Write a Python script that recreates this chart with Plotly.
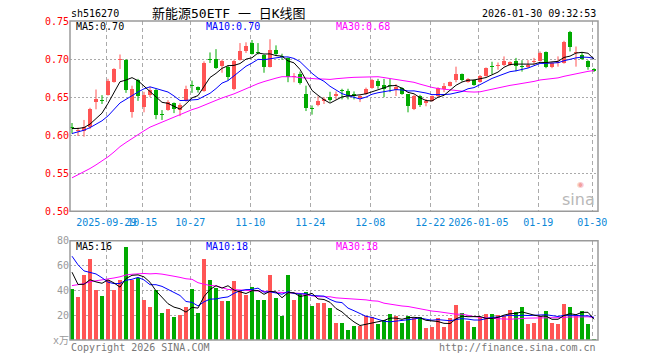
import plotly.graph_objects as go
import pandas as pd

# ---------------- data ----------------
sep = ["2025-09-%02d" % d for d in [19, 22, 23, 24, 25, 26, 29, 30]]
octo = ["2025-10-%02d" % d for d in [9, 10, 13, 14, 15, 16, 17, 20, 21, 22, 23, 24, 27, 28, 29, 30, 31]]
nov = ["2025-11-%02d" % d for d in [3, 4, 5, 6, 7, 10, 11, 12, 13, 14, 17, 18, 19, 20, 21, 24, 25, 26, 27, 28]]
dec = ["2025-12-%02d" % d for d in [1, 2, 3, 4, 5, 8, 9, 10, 11, 12, 15, 16, 17, 18, 19, 22, 23, 24, 25, 26, 29, 30, 31]]
jan = ["2026-01-%02d" % d for d in [5, 6, 7, 8, 9, 12, 13, 14, 15, 16, 19, 20, 21, 22, 23, 26, 27, 28, 29, 30]]
dates = sep + octo + nov + dec + jan

open_ = [0.610, 0.606, 0.606, 0.611, 0.644, 0.646, 0.653, 0.670, 0.699, 0.699,
         0.630, 0.672, 0.637, 0.653, 0.660, 0.627, 0.633, 0.642, 0.633, 0.645,
         0.666, 0.663, 0.658, 0.700, 0.700, 0.6905, 0.690, 0.661, 0.699, 0.711,
         0.721, 0.709, 0.705, 0.690, 0.712, 0.704, 0.701, 0.676, 0.680, 0.6535,
         0.636, 0.639, 0.645, 0.6505, 0.651, 0.6582, 0.658, 0.654, 0.649, 0.654,
         0.662, 0.671, 0.6665, 0.6655, 0.660, 0.662, 0.6535, 0.635, 0.652, 0.642,
         0.645, 0.651, 0.661, 0.665, 0.673, 0.680, 0.670, 0.672, 0.670, 0.678,
         0.6905, 0.6915, 0.692, 0.692, 0.697, 0.6905, 0.689, 0.6965, 0.698, 0.709,
         0.689, 0.695, 0.695, 0.735, 0.7085, 0.7057, 0.697, 0.6874]
high = [0.616, 0.610, 0.620, 0.636, 0.660, 0.6526, 0.674, 0.688, 0.706, 0.700,
        0.665, 0.674, 0.657, 0.6635, 0.661, 0.633, 0.646, 0.643, 0.642, 0.665,
        0.6717, 0.664, 0.697, 0.7087, 0.713, 0.699, 0.692, 0.699, 0.721, 0.722,
        0.725, 0.721, 0.706, 0.726, 0.718, 0.707, 0.702, 0.6815, 0.6835, 0.665,
        0.639, 0.651, 0.650, 0.657, 0.6575, 0.661, 0.661, 0.6575, 0.6525, 0.6625,
        0.674, 0.674, 0.674, 0.674, 0.667, 0.663, 0.654, 0.653, 0.653, 0.6475,
        0.652, 0.663, 0.6685, 0.6705, 0.690, 0.681, 0.675, 0.673, 0.679, 0.689,
        0.6965, 0.6955, 0.7035, 0.697, 0.7015, 0.6985, 0.6985, 0.7015, 0.710, 0.710,
        0.696, 0.7035, 0.724, 0.737, 0.7165, 0.709, 0.6985, 0.688]
low = [0.602, 0.599, 0.598, 0.608, 0.634, 0.641, 0.652, 0.669, 0.687, 0.6556,
       0.623, 0.645, 0.630, 0.650, 0.621, 0.620, 0.632, 0.629, 0.625, 0.644,
       0.6556, 0.656, 0.657, 0.6948, 0.687, 0.682, 0.672, 0.659, 0.698, 0.708,
       0.706, 0.706, 0.682, 0.689, 0.704, 0.699, 0.6696, 0.6695, 0.6665, 0.6317,
       0.627, 0.638, 0.641, 0.644, 0.647, 0.647, 0.647, 0.647, 0.6435, 0.653,
       0.661, 0.661, 0.650, 0.6565, 0.6515, 0.653, 0.630, 0.633, 0.637, 0.638,
       0.644, 0.650, 0.6565, 0.664, 0.6695, 0.6705, 0.669, 0.665, 0.669, 0.677,
       0.680, 0.686, 0.691, 0.691, 0.684, 0.6835, 0.688, 0.693, 0.697, 0.688,
       0.688, 0.690, 0.694, 0.710, 0.690, 0.699, 0.686, 0.683]
close = [0.609, 0.607, 0.611, 0.634, 0.648, 0.645, 0.671, 0.687, 0.700, 0.659,
         0.661, 0.651, 0.653, 0.660, 0.626, 0.626, 0.644, 0.635, 0.640, 0.661,
         0.665, 0.659, 0.695, 0.699, 0.688, 0.698, 0.6765, 0.697, 0.711, 0.717,
         0.707, 0.708, 0.690, 0.712, 0.706, 0.703, 0.677, 0.677, 0.669, 0.636,
         0.635, 0.645, 0.648, 0.6465, 0.654, 0.658, 0.651, 0.651, 0.651, 0.661,
         0.672, 0.665, 0.661, 0.665, 0.6635, 0.6535, 0.638, 0.652, 0.639, 0.645,
         0.651, 0.662, 0.665, 0.670, 0.680, 0.672, 0.674, 0.6665, 0.678, 0.688,
         0.690, 0.692, 0.698, 0.696, 0.691, 0.690, 0.6926, 0.697, 0.708, 0.689,
         0.695, 0.6957, 0.723, 0.7165, 0.709, 0.700, 0.6896, 0.684]
volume = [41.1, 34.7, 52.7, 65.3, 40.3, 35.5, 48.4, 40.3, 48.4, 75.0,
          48.4, 50.3, 32.3, 26.7, 40.3, 21.8, 25.0, 18.6, 20.2, 26.7,
          41.1, 21.8, 65.3, 48.4, 42.0, 31.5, 31.5, 47.6, 40.3, 36.3,
          42.8, 32.3, 32.3, 52.4, 33.9, 19.4, 52.4, 32.3, 37.1, 38.7,
          27.5, 29.9, 29.9, 25.8, 13.8, 13.8, 8.1, 11.3, 11.3, 19.4,
          18.6, 13.0, 16.2, 21.0, 19.4, 13.8, 19.4, 17.8, 18.6, 9.7,
          10.5, 17.8, 10.5, 17.8, 28.3, 21.8, 15.4, 10.5, 18.6, 21.0,
          21.0, 20.2, 19.4, 24.2, 22.6, 26.7, 13.0, 13.8, 19.4, 23.4,
          13.8, 13.0, 29.1, 26.7, 19.4, 23.4, 13.0, 1.0]

# sessions before the visible window (estimated from the moving averages at the left edge)
lead_close = [0.490, 0.495, 0.500, 0.505, 0.500, 0.500, 0.495, 0.490, 0.495, 0.500,
              0.505, 0.500, 0.515, 0.525, 0.530, 0.535, 0.540, 0.550, 0.560, 0.567,
              0.585, 0.590, 0.600, 0.600, 0.603, 0.607, 0.605, 0.6115, 0.6115]
lead_volume = [20, 22, 18, 20, 19, 18, 16, 20, 30, 32,
               34, 30, 36, 33, 35, 45, 50, 48, 60, 54,
               104, 102, 78, 52, 66, 84, 52, 47, 49]

tick_dates = ["2025-09-29", "2025-10-15", "2025-10-27", "2025-11-10", "2025-11-24",
              "2025-12-08", "2025-12-22", "2026-01-05", "2026-01-19", "2026-01-30"]
tick_labels = ["2025-09-29", "10-15", "10-27", "11-10", "11-24",
               "12-08", "12-22", "2026-01-05", "01-19", "01-30"]

# ---------------- derived ----------------
n = len(dates)
idx = list(range(n))
k = len(lead_close)
cs = pd.Series(lead_close + close)
vs = pd.Series(lead_volume + volume)
ma = {p: cs.rolling(p).mean().iloc[k:].tolist() for p in (5, 10, 30)}
vma = {p: vs.rolling(p).mean().iloc[k:].tolist() for p in (5, 10, 30)}

RED = "#ff5555"
GREEN = "#00aa00"
up = [c >= o for o, c in zip(open_, close)]
colors = [RED if u else GREEN for u in up]

W, H = 660, 360
L, R, T, B = 70, 62, 21, 20
PW, PH = W - L - R, H - T - B


def fx(x):
    return (x - L) / PW


def fy(y):
    return (H - B - y) / PH


fig = go.Figure()

# wicks
for col, flag in ((RED, True), (GREEN, False)):
    xs, ys = [], []
    for i in idx:
        if up[i] == flag:
            xs += [i, i, None]
            ys += [low[i], high[i], None]
    fig.add_trace(go.Scatter(x=xs, y=ys, mode="lines", line=dict(color=col, width=1),
                             hoverinfo="skip", xaxis="x", yaxis="y"))

# bodies
fig.add_trace(go.Bar(
    x=idx,
    y=[max(abs(c - o), 0.0012) for o, c in zip(open_, close)],
    base=[min(o, c) for o, c in zip(open_, close)],
    marker=dict(color=colors, line=dict(width=0)),
    width=0.75, xaxis="x", yaxis="y"))

# price MAs
for p, col in ((30, "#ff00ff"), (10, "#0000ff"), (5, "#000000")):
    fig.add_trace(go.Scatter(x=idx, y=ma[p], mode="lines", line=dict(color=col, width=1),
                             xaxis="x", yaxis="y"))

# volume
fig.add_trace(go.Bar(x=idx, y=volume, marker=dict(color=colors, line=dict(width=0)),
                     width=0.8, xaxis="x2", yaxis="y2"))
for p, col in ((30, "#ff00ff"), (10, "#0000ff"), (5, "#000000")):
    fig.add_trace(go.Scatter(x=idx, y=vma[p], mode="lines", line=dict(color=col, width=1),
                             xaxis="x2", yaxis="y2"))

tickpos = [dates.index(d) - 0.28 for d in tick_dates]
xr = [(L - 72) / 6, (L + PW - 72) / 6]
MONO = "DejaVu Sans Mono"

common_x = dict(range=xr, tickmode="array", tickvals=tickpos, showgrid=True,
                gridcolor="#aaaaaa", gridwidth=1, griddash="4px,3px", zeroline=False,
                showline=False, ticks="", fixedrange=True, tickangle=0, automargin=False)

main_dom = [fy(211.3), 1.0]
vol_dom = [0.0, fy(240.7)]

fig.update_layout(
    width=W, height=H, margin=dict(l=L, r=R, t=T, b=B, autoexpand=False),
    paper_bgcolor="white", plot_bgcolor="white", showlegend=False,
    bargap=0, barmode="overlay",
    xaxis=dict(**common_x, ticktext=tick_labels, anchor="y", ticklabelstandoff=4,
               tickfont=dict(family=MONO, size=10, color="#0a88d8")),
    xaxis2=dict(**common_x, ticktext=[""] * len(tickpos), anchor="y2", showticklabels=False),
    yaxis=dict(domain=main_dom, range=[0.50, 0.75], tickmode="array",
               tickvals=[0.50, 0.55, 0.60, 0.65, 0.70, 0.75],
               ticktext=["0.50", "0.55", "0.60", "0.65", "0.70", "0.75"],
               tickfont=dict(family=MONO, size=10, color="#ff0000"),
               showgrid=True, gridcolor="#aaaaaa", griddash="2px,2px", zeroline=False,
               ticks="", fixedrange=True, automargin=False),
    yaxis2=dict(domain=vol_dom, range=[0, 80], tickmode="array",
                tickvals=[0, 20, 40, 60, 80], ticktext=["x万", "20", "40", "60", "80"],
                tickfont=dict(family=MONO + ", Noto Sans CJK SC", size=10, color="#999999"),
                showgrid=True, gridcolor="#aaaaaa", griddash="2px,2px", zeroline=False,
                ticks="", fixedrange=True, automargin=False),
)

# panel borders
for ya in ("y", "y2"):
    xa = "x" if ya == "y" else "x2"
    fig.add_shape(type="rect", xref=xa + " domain", yref=ya + " domain", x0=0, x1=1, y0=0, y1=1,
                  line=dict(color="#9a9a9a", width=1.5), layer="above")


def txt(s, x, y, color="#000000", size=10, anchor="left", family=MONO, **kw):
    fig.add_annotation(text=s, x=fx(x), y=fy(y), xref="paper", yref="paper",
                       xanchor=anchor, yanchor="middle", showarrow=False,
                       font=dict(family=family, size=size, color=color), **kw)


txt("sh516270", 69, 13)
txt("新能源50ETF 一 日K线图", 150, 13, size=13, family=MONO + ", Noto Sans CJK SC")
txt("2026-01-30 09:32:53", 598, 13, anchor="right")

txt("MA5:%.2f" % ma[5][-1], 74, 27)
txt("MA10:%.2f" % ma[10][-1], 204, 27, color="#0000ff")
txt("MA30:%.2f" % ma[30][-1], 334, 27, color="#ff00ff")

txt("MA5:%d" % int(vma[5][-1]), 74, 246)
txt("MA10:%d" % int(vma[10][-1]), 204, 246, color="#0000ff")
txt("MA30:%d" % int(vma[30][-1]), 334, 246, color="#ff00ff")

txt("Copyright 2026 SINA.COM", 69, 347, color="#777777")
txt("http://finance.sina.com.cn", 598, 347, color="#777777", anchor="right")

# sina watermark
txt("sina", 597, 200, color="#b8b8b8", size=16, anchor="right",
    family="DejaVu Sans")
txt("◉", 580, 184, color="#f3a0a0", size=8, anchor="center", family="DejaVu Sans")

fig.write_html("out.html", config={"displayModeBar": False, "staticPlot": True},
               post_script="document.body.style.margin='0';document.body.style.overflow='hidden';")
